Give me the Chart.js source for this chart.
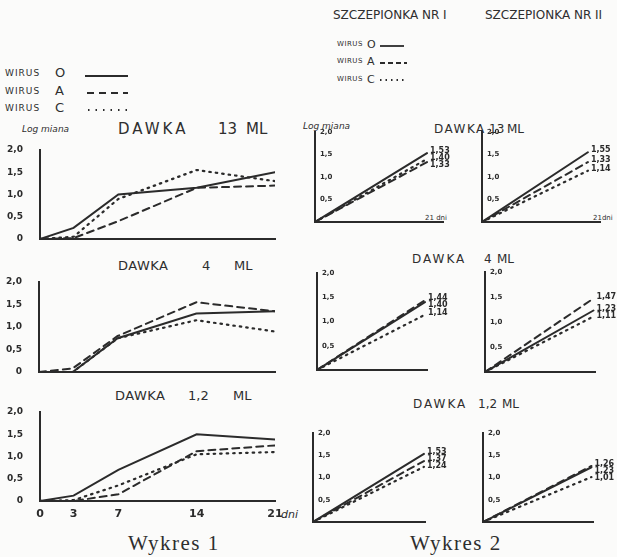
<!DOCTYPE html>
<html lang="pl">
<head>
<meta charset="utf-8">
<title>Wykres 1 i Wykres 2</title>
<script src="https://cdn.jsdelivr.net/npm/chart.js@4.4.1/dist/chart.umd.min.js"></script>
<style>
  html, body { margin: 0; padding: 0; background: #fbfbfa; }
  #page { position: relative; width: 617px; height: 557px; overflow: hidden; background: #fbfbfa;
          font-family: "DejaVu Sans", sans-serif; color: #2e2e2e; }
  #page canvas { position: absolute; }
  .t { position: absolute; white-space: nowrap; line-height: 1; }
  .legend { font-size: 9px; letter-spacing: 1px; }
  .title { font-family: "Liberation Serif", "DejaVu Serif", serif; font-size: 21px; letter-spacing: 1.5px; }
  svg.key { position: absolute; overflow: visible; }
</style>
</head>
<body>
<div id="page">
  <!-- Wykres 1 legend -->
  <div class="t legend" style="left:5px;top:69px">WIRUS</div>
  <div class="t" style="left:55px;top:66px;font-size:13px">O</div>
  <div class="t legend" style="left:5px;top:87px">WIRUS</div>
  <div class="t" style="left:55px;top:84px;font-size:13px">A</div>
  <div class="t legend" style="left:5px;top:104px">WIRUS</div>
  <div class="t" style="left:55px;top:101px;font-size:13px">C</div>
  <svg class="key" style="left:85px;top:70px" width="45" height="45">
    <line x1="0" y1="6" x2="43" y2="6" stroke="#2b2b2b" stroke-width="2"/>
    <line x1="2" y1="23" x2="43" y2="23" stroke="#2b2b2b" stroke-width="2" stroke-dasharray="7 5"/>
    <line x1="3" y1="40" x2="43" y2="40" stroke="#2b2b2b" stroke-width="2" stroke-dasharray="1.5 6"/>
  </svg>

  <div class="t" style="left:22px;top:125px;font-size:9px;font-style:italic">Log miana</div>
  <div class="t" style="left:118px;top:122px;font-size:15px;letter-spacing:3px">DAWKA</div>
  <div class="t" style="left:218px;top:122px;font-size:15px">13</div>
  <div class="t" style="left:246px;top:122px;font-size:15px">ML</div>

  <div class="t" style="left:118px;top:259px;font-size:13px;letter-spacing:0.5px">DAWKA</div>
  <div class="t" style="left:202px;top:259px;font-size:13px">4</div>
  <div class="t" style="left:234px;top:259px;font-size:13px">ML</div>

  <div class="t" style="left:115px;top:389px;font-size:13px;letter-spacing:0.5px">DAWKA</div>
  <div class="t" style="left:188px;top:389px;font-size:13px">1,2</div>
  <div class="t" style="left:233px;top:389px;font-size:13px">ML</div>

  <div class="t" style="left:281px;top:509px;font-size:11px;font-style:italic">dni</div>
  <div class="t title" style="left:128px;top:533px">Wykres 1</div>

  <!-- Wykres 2 headers and legend -->
  <div class="t" style="left:333px;top:9px;font-size:12px">SZCZEPIONKA NR I</div>
  <div class="t" style="left:485px;top:9px;font-size:12px">SZCZEPIONKA NR II</div>
  <div class="t" style="left:337px;top:41px;font-size:7px;letter-spacing:0.5px">WIRUS</div>
  <div class="t" style="left:367px;top:39px;font-size:11px">O</div>
  <div class="t" style="left:337px;top:58px;font-size:7px;letter-spacing:0.5px">WIRUS</div>
  <div class="t" style="left:367px;top:56px;font-size:11px">A</div>
  <div class="t" style="left:337px;top:76px;font-size:7px;letter-spacing:0.5px">WIRUS</div>
  <div class="t" style="left:367px;top:74px;font-size:11px">C</div>
  <svg class="key" style="left:380px;top:40px" width="30" height="45">
    <line x1="0" y1="6" x2="24" y2="6" stroke="#2b2b2b" stroke-width="1.8"/>
    <line x1="0" y1="23" x2="27" y2="23" stroke="#2b2b2b" stroke-width="1.8" stroke-dasharray="5 3"/>
    <line x1="0" y1="40" x2="27" y2="40" stroke="#2b2b2b" stroke-width="1.8" stroke-dasharray="1.5 4"/>
  </svg>

  <div class="t" style="left:303px;top:122px;font-size:9px;font-style:italic">Log miana</div>
  <div class="t" style="left:434px;top:123px;font-size:12px;letter-spacing:1.5px">DAWKA</div>
  <div class="t" style="left:489px;top:123px;font-size:12px">13</div>
  <div class="t" style="left:507px;top:123px;font-size:12px">ML</div>
  <div class="t" style="left:425px;top:215px;font-size:7px">21 dni</div>
  <div class="t" style="left:593px;top:215px;font-size:7px">21dni</div>

  <div class="t" style="left:412px;top:253px;font-size:12px;letter-spacing:2px">DAWKA</div>
  <div class="t" style="left:484px;top:253px;font-size:12px">4</div>
  <div class="t" style="left:497px;top:253px;font-size:12px">ML</div>

  <div class="t" style="left:413px;top:398px;font-size:12px;letter-spacing:2px">DAWKA</div>
  <div class="t" style="left:478px;top:398px;font-size:12px">1,2</div>
  <div class="t" style="left:502px;top:398px;font-size:12px">ML</div>
  <div class="t title" style="left:410px;top:533px">Wykres 2</div>

  <canvas id="l13"></canvas>
  <canvas id="l4"></canvas>
  <canvas id="l12"></canvas>
  <canvas id="a13"></canvas>
  <canvas id="b13"></canvas>
  <canvas id="a4"></canvas>
  <canvas id="b4"></canvas>
  <canvas id="a12"></canvas>
  <canvas id="b12"></canvas>
</div>

<script>
// Axes
const days = [0, 3, 7, 14, 21];
const dayTicks = [0, 3, 7, 14, 21];
const logTicks = [0, 0.5, 1.0, 1.5, 2.0];
const virusNames = ['WIRUS O', 'WIRUS A', 'WIRUS C'];

// Wykres 1 - log miana per day, three doses
const dose13_O = [0, 0.25, 1.0, 1.15, 1.5];
const dose13_A = [0, 0.02, 0.4, 1.15, 1.2];
const dose13_C = [0, 0.05, 0.9, 1.55, 1.3];
const dose4_O = [0, 0, 0.75, 1.3, 1.35];
const dose4_A = [0, 0.08, 0.8, 1.55, 1.35];
const dose4_C = [0, 0, 0.75, 1.15, 0.9];
const dose12_O = [0, 0.12, 0.7, 1.5, 1.38];
const dose12_A = [0, 0, 0.15, 1.12, 1.25];
const dose12_C = [0, 0.02, 0.35, 1.05, 1.1];

// Wykres 2 - day 0 and day 21, vaccine I and II
const vacDays = [0, 21];
const vacI_13_O = [0, 1.53];
const vacI_13_A = [0, 1.33];
const vacI_13_C = [0, 1.40];
const vacII_13_O = [0, 1.55];
const vacII_13_A = [0, 1.33];
const vacII_13_C = [0, 1.14];
const vacI_4_O = [0, 1.40];
const vacI_4_A = [0, 1.44];
const vacI_4_C = [0, 1.14];
const vacII_4_O = [0, 1.23];
const vacII_4_A = [0, 1.47];
const vacII_4_C = [0, 1.11];
const vacI_12_O = [0, 1.53];
const vacI_12_A = [0, 1.37];
const vacI_12_C = [0, 1.24];
const vacII_12_O = [0, 1.23];
const vacII_12_A = [0, 1.26];
const vacII_12_C = [0, 1.01];

const INK = '#2b2b2b';
const lineStyles = [
    { dash: [], width: 2 },
    { dash: [7, 5], width: 2 },
    { dash: [1.5, 5], width: 2.2 }
];

function comma(v, digits) {
    return v === 0 ? '0' : v.toFixed(digits).replace('.', ',');
}

/**
 * Write the value at the end of each line (Wykres 2)
 */
const endLabels = {
    id: 'endLabels',
    afterDatasetsDraw(chart) {
        const ctx = chart.ctx;
        const items = chart.data.datasets.map((ds, i) => {
            const pts = chart.getDatasetMeta(i).data;
            const p = pts[pts.length - 1];
            return { x: p.x, y: p.y, text: comma(ds.data[ds.data.length - 1].y, 2) };
        }).sort((a, b) => a.y - b.y);
        for (let k = 1; k < items.length; k++) {
            if (items[k].y - items[k - 1].y < 7) items[k].y = items[k - 1].y + 7;
        }
        ctx.save();
        ctx.font = 'bold 8px "DejaVu Sans"';
        ctx.fillStyle = INK;
        ctx.textBaseline = 'middle';
        items.forEach(it => ctx.fillText(it.text, it.x + 3, it.y - 2));
        ctx.restore();
    }
};

/**
 * Build one line chart. box = canvas position, plot = wanted plot area (page coords)
 */
function buildChart(id, box, plot, xs, series, opt) {
    const canvas = document.getElementById(id);
    canvas.width = box.w;
    canvas.height = box.h;
    canvas.style.left = box.x + 'px';
    canvas.style.top = box.y + 'px';

    const yw = opt.mirror ? 0 : plot.l - box.x;
    const xh = opt.xLabels ? 24 : 0;
    const padding = {
        left: plot.l - box.x - yw,
        right: box.x + box.w - plot.r,
        top: plot.t - box.y,
        bottom: box.y + box.h - plot.b - xh
    };

    return new Chart(canvas, {
        type: 'line',
        data: {
            datasets: series.map((ys, i) => ({
                label: virusNames[i],
                data: xs.map((x, j) => ({ x: x, y: ys[j] })),
                borderColor: INK,
                borderWidth: lineStyles[i].width,
                borderDash: lineStyles[i].dash,
                borderCapStyle: 'round',
                pointRadius: 0,
                tension: 0,
                fill: false
            }))
        },
        options: {
            responsive: false,
            animation: false,
            layout: { padding: padding },
            plugins: { legend: { display: false }, tooltip: { enabled: false } },
            scales: {
                x: {
                    type: 'linear',
                    min: 0,
                    max: opt.xMax,
                    grid: { color: 'transparent', drawTicks: false },
                    border: { display: true, color: INK, width: 2 },
                    afterBuildTicks: s => { s.ticks = dayTicks.map(v => ({ value: v })); },
                    afterFit: s => { s.height = xh; },
                    ticks: {
                        display: !!opt.xLabels,
                        autoSkip: false,
                        maxRotation: 0,
                        padding: 7,
                        color: INK,
                        font: { family: 'DejaVu Sans', size: 11, weight: 'bold' },
                        callback: v => String(v)
                    }
                },
                y: {
                    min: 0,
                    max: 2,
                    grid: { color: 'transparent', drawTicks: false },
                    border: { display: true, color: INK, width: 2 },
                    afterBuildTicks: s => { s.ticks = logTicks.map(v => ({ value: v })); },
                    afterFit: s => { s.width = yw; },
                    ticks: {
                        mirror: !!opt.mirror,
                        padding: opt.mirror ? 5 : 17,
                        color: INK,
                        font: { family: 'DejaVu Sans', size: opt.mirror ? 7 : 9, weight: 'bold' },
                        // small charts have no label at the origin
                        callback: v => (opt.mirror && v === 0) ? '' : comma(v, 1)
                    }
                }
            }
        },
        plugins: opt.mirror ? [endLabels] : []
    });
}

// Wykres 1 (canvas leaves 24px above and below for the y tick padding)
buildChart('l13', { x: 0, y: 126, w: 300, h: 137 }, { l: 40, r: 275, t: 150, b: 239 },
    days, [dose13_O, dose13_A, dose13_C], { xMax: 21 });
buildChart('l4', { x: 0, y: 258, w: 300, h: 138 }, { l: 39, r: 275, t: 282, b: 372 },
    days, [dose4_O, dose4_A, dose4_C], { xMax: 21 });
buildChart('l12', { x: 0, y: 388, w: 310, h: 137 }, { l: 40, r: 275, t: 412, b: 501 },
    days, [dose12_O, dose12_A, dose12_C], { xMax: 21, xLabels: true });

// Wykres 2
buildChart('a13', { x: 305, y: 122, w: 160, h: 110 }, { l: 315, r: 443, t: 132, b: 222 },
    vacDays, [vacI_13_O, vacI_13_A, vacI_13_C], { xMax: 24, mirror: true });
buildChart('b13', { x: 472, y: 122, w: 145, h: 110 }, { l: 482, r: 600, t: 132, b: 222 },
    vacDays, [vacII_13_O, vacII_13_A, vacII_13_C], { xMax: 23.4, mirror: true });
buildChart('a4', { x: 307, y: 263, w: 160, h: 117 }, { l: 317, r: 427, t: 273, b: 370 },
    vacDays, [vacI_4_O, vacI_4_A, vacI_4_C], { xMax: 21.4, mirror: true });
buildChart('b4', { x: 475, y: 262, w: 142, h: 120 }, { l: 485, r: 595, t: 272, b: 372 },
    vacDays, [vacII_4_O, vacII_4_A, vacII_4_C], { xMax: 21.3, mirror: true });
buildChart('a12', { x: 303, y: 423, w: 160, h: 109 }, { l: 313, r: 425, t: 433, b: 522 },
    vacDays, [vacI_12_O, vacI_12_A, vacI_12_C], { xMax: 21.2, mirror: true });
buildChart('b12', { x: 473, y: 423, w: 144, h: 109 }, { l: 483, r: 593, t: 433, b: 522 },
    vacDays, [vacII_12_O, vacII_12_A, vacII_12_C], { xMax: 21.3, mirror: true });
</script>
</body>
</html>
